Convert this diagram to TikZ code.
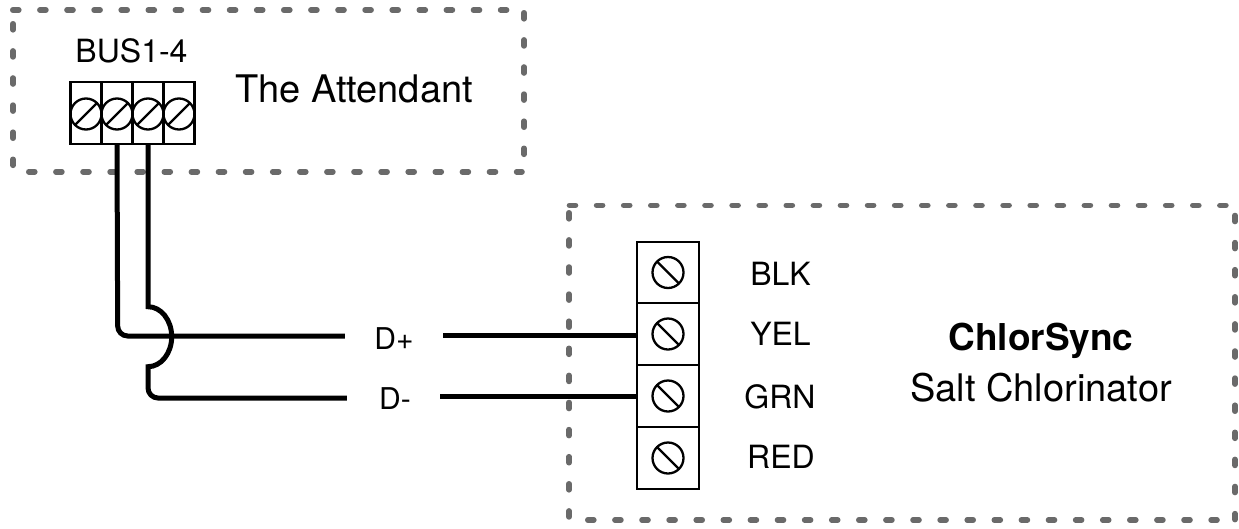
\documentclass[tikz,border=0pt]{standalone}
\usepackage{fontspec}
\setmainfont{TeX Gyre Heros}
\definecolor{dashgray}{HTML}{6A6A6A}
\tikzset{
  x=1pt,y=-1pt,
  boxline/.style={draw=dashgray,line width=5.6pt,line cap=round,dash pattern=on 6pt off 21.1pt},
  cell/.style={draw=black,line width=2.3pt,minimum width=#1,inner sep=0pt,outer sep=0pt},
  screw/.style={draw=black,line width=2.3pt,circle,minimum size=31pt,inner sep=0pt,outer sep=0pt},
  wire/.style={draw=black,line width=5pt},
  lbl/.style={font=\fontsize{32}{36}\selectfont,inner sep=0pt,text=black},
  big/.style={font=\fontsize{38}{42}\selectfont,inner sep=0pt,text=black},
}
\begin{document}
\begin{tikzpicture}
\useasboundingbox (0,0) rectangle (1239,528);
% dashed enclosures
\draw[boxline] (12.8,10) -- (508,10);
\draw[boxline] (13,23.8) -- (13,167);
\draw[boxline] (28.8,171.7) -- (522,171.7);
\draw[boxline] (524,12.8) -- (524,157);
\draw[boxline] (569.5,205.3) -- (1226,205.3);
\draw[boxline] (569,212.8) -- (569,520);
\draw[boxline] (587.8,520) -- (1217,520);
\draw[boxline] (1235,215.5) -- (1235,523);
% BUS terminal
\foreach \i/\cx in {1/86,2/117,3/148,4/179}{
  \node[cell=31pt,minimum height=62pt] (b\i) at (\cx,113) {};
  \node[screw] (bs\i) at (\cx,114) {};
  \draw[line width=2.3pt] (bs\i.225) -- (bs\i.45);
}
\node[lbl] (bus) at (131.5,51) {BUS1-4};
\node[big] (att) at (354,88.5) {The Attendant};
% Chlorinator terminal
\foreach \i/\cy/\t/\tx/\ty in {1/272.5/BLK/780.5/274,2/334/YEL/780.5/333.5,3/396/GRN/780/396.5,4/458/RED/781/456.5}{
  \node[cell=61.5pt,minimum height=61.5pt] (c\i) at (668,\cy) {};
  \node[screw] (cs\i) at (668,\cy) {};
  \draw[line width=2.3pt] (cs\i.135) -- (cs\i.315);
  \node[lbl] (l\i) at (\tx,\ty) {\t};
}
\node[big,font=\fontsize{37}{42}\selectfont\bfseries,anchor=base] (cs) at (1041,350) {ChlorSync};
\node[big,anchor=base] (sc) at (1041,401.7) {Salt Chlorinator};
% signal labels
\node[lbl,font=\fontsize{30}{36}\selectfont,minimum width=98pt] (dp) at (394,339) {D+};
\node[lbl,font=\fontsize{30}{36}\selectfont,minimum width=93pt] (dm) at (393.5,399) {\hspace{3pt}D-};
% wires
\draw[wire,rounded corners=10pt] (b2.south) -- (117.7,336) -- (dp.west |- 0,336);
\draw[wire] (dp.east |- 0,335) -- (c2.west |- 0,335);
\draw[wire] (b3.south) -- (148,306.7) arc[start angle=-90,end angle=90,x radius=23.7,y radius=30]
  [rounded corners=10pt] -- (148,398) -- (dm.west |- 0,398);
\draw[wire] (dm.east |- 0,396.7) -- (c3.west |- 0,396.7);
\end{tikzpicture}
\end{document}
